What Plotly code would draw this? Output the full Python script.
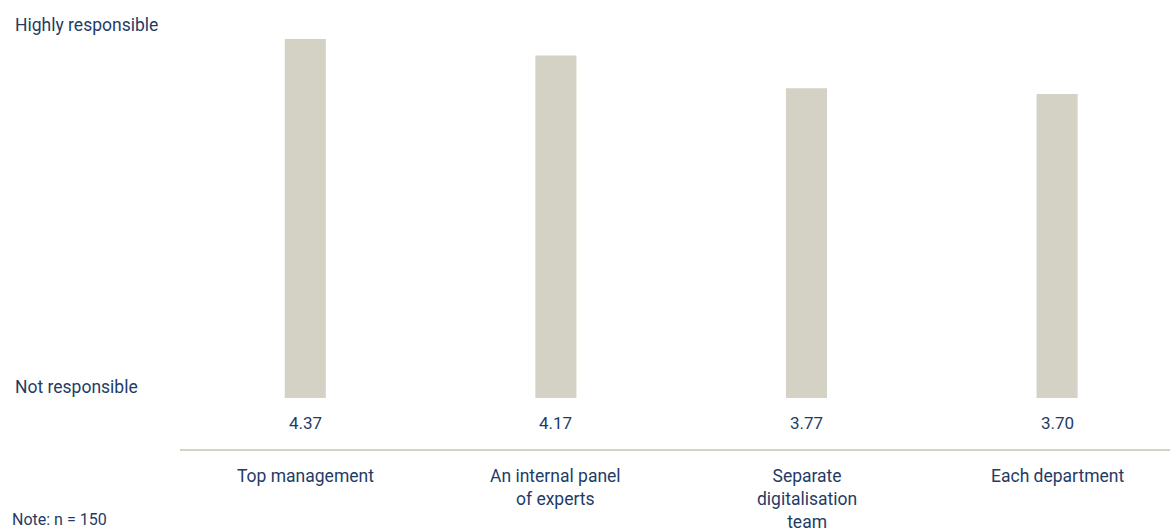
import plotly.graph_objects as go

# Survey: who is responsible for digitalisation (mean score)
categories = ["Top management", "An internal panel<br>of experts",
              "Separate<br>digitalisation<br>team", "Each department"]
scores = [4.37, 4.17, 3.77, 3.70]
scale_labels = ["Highly responsible", "Not responsible"]
note_text = "Note: n = 150"

BAR = "#d4d2c4"
INK = "#1f3c66"
FONT = "Roboto"
FS_NUM = 17
FS_TXT = 17.5

W, H = 1170, 530
ML, MB = 180, 81
plot_h = H - MB
plot_w = W - ML

x = list(range(len(categories)))

fig = go.Figure()
fig.add_trace(go.Bar(
    x=x, y=scores, width=0.164, marker=dict(color=BAR, line=dict(width=0)),
    hoverinfo="skip",
))

annotations = []
# value labels under each bar
for xi, v in zip(x, scores):
    annotations.append(dict(
        x=xi, y=0, xref="x", yref="y", text=f"{v:.2f}", showarrow=False,
        yanchor="top", yshift=-13, font=dict(size=FS_NUM, color=INK, family=FONT),
    ))
# category labels under the axis line
for xi, c in zip(x, categories):
    annotations.append(dict(
        x=xi, y=0, xref="x", yref="paper", text=c, showarrow=False,
        yanchor="top", yshift=-15, align="center",
        font=dict(size=FS_TXT, color=INK, family=FONT),
    ))

def px_to_paper_y(py):
    return (plot_h - py) / plot_h

left_x = (13 - ML) / plot_w
annotations.append(dict(
    x=left_x, y=px_to_paper_y(25), xref="paper", yref="paper",
    text=scale_labels[0], showarrow=False, xanchor="left", yanchor="middle",
    font=dict(size=FS_TXT, color=INK, family=FONT),
))
annotations.append(dict(
    x=left_x, y=px_to_paper_y(387), xref="paper", yref="paper",
    text=scale_labels[1], showarrow=False, xanchor="left", yanchor="middle",
    font=dict(size=FS_TXT, color=INK, family=FONT),
))
annotations.append(dict(
    x=(10 - ML) / plot_w, y=px_to_paper_y(519), xref="paper", yref="paper",
    text=note_text, showarrow=False, xanchor="left", yanchor="middle",
    font=dict(size=FS_NUM - 1, color=INK, family=FONT),
))

px_per_unit = 82.15
y_max = 398 / px_per_unit
y_min = -(plot_h - 398) / px_per_unit

fig.update_layout(
    width=W, height=H,
    margin=dict(l=ML, r=0, t=0, b=MB),
    plot_bgcolor="white", paper_bgcolor="white",
    showlegend=False,
    annotations=annotations,
    xaxis=dict(range=[-0.5, -0.5 + plot_w / 250.6], showticklabels=False,
               showgrid=False, zeroline=False, showline=True,
               linecolor=BAR, linewidth=2, ticks=""),
    yaxis=dict(range=[y_min, y_max], visible=False, showgrid=False,
               zeroline=False),
)

fig.write_html("out.html")
